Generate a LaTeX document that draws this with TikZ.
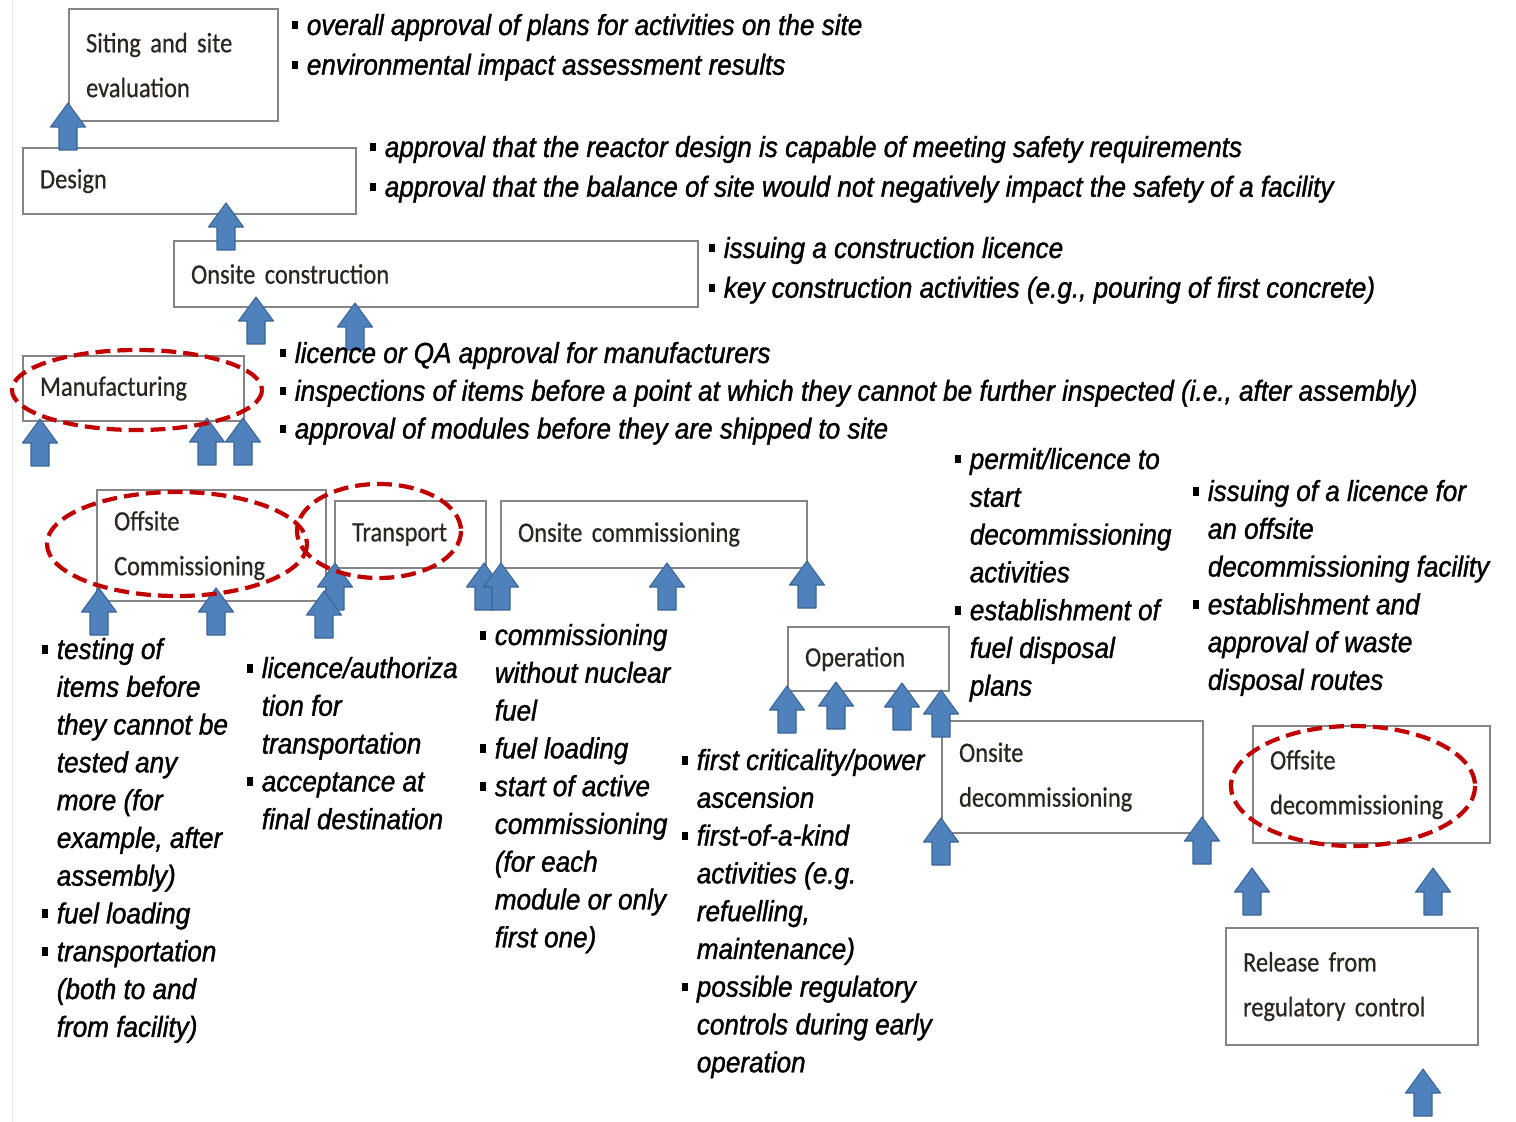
\documentclass[tikz,border=0pt]{standalone}
\usepackage{fontspec}
\setmainfont{Carlito}
\newfontfamily\boxfont[FakeStretch=0.87, FakeBold=0.5]{Carlito}
\newfontfamily\notefont[FakeStretch=0.9, FakeBold=1.2]{Liberation Sans}
\newdimen\px \px=0.2mm
\definecolor{boxgray}{HTML}{858585}
\definecolor{ringred}{HTML}{C00000}
\definecolor{arrfill}{HTML}{4F81BD}
\definecolor{arrline}{HTML}{3A6595}
\definecolor{boxtext}{HTML}{2B2620}
\newcommand{\blt}{\rule[1.1mm]{1.1mm}{1.7mm}}
\newcommand{\boxtype}{\boxfont\fontsize{16}{25.5}\selectfont\spaceskip=0.2em\relax}
\newcommand{\notelist}[1]{\begin{tabular}[t]{@{}l@{\hspace{9\px}}l@{}}#1\end{tabular}}

\begin{document}
\begin{tikzpicture}[x=0.2mm, y=-0.2mm,
    stage/.style={draw=boxgray, line width=1.2pt, anchor=north west, inner xsep=17\px, inner ysep=0pt,
      align=left, text=boxtext, font=\boxtype},
    notes/.style={anchor=base west, inner sep=0pt, font=\notefont\itshape\fontsize{16.5}{21.5}\selectfont},
    topnotes/.style={notes, font=\notefont\itshape\fontsize{16.5}{22.6}\selectfont},
    ring/.style={draw=ringred, line width=2.4pt, dash pattern=on 8.5pt off 4pt},
    uparr/.pic={\draw[arrline, fill=arrfill, line width=0.6pt, line join=round]
      (0,0) -- (17.5,24) -- (9,24) -- (9,47) -- (-9,47) -- (-9,24) -- (-17.5,24) -- cycle;}]

    % Marco
    \fill[white] (0,0) rectangle (1516,1122);
    \useasboundingbox (0,0) rectangle (1516,1122);
    \draw[gray!18] (12,0) -- (12,1122);

    % Etapas
    \node[stage, text width=175\px, minimum height=112\px] (siting) at (68,8) {Siting and site\\evaluation};
    \node[stage, text width=299\px, minimum height=66\px] (design) at (22,147) {Design};
    \node[stage, text width=490\px, minimum height=66\px] (construction) at (173,240) {Onsite construction};
    \node[stage, text width=187\px, minimum height=65\px] (manuf) at (22,355) {Manufacturing};
    \node[stage, text width=195\px, minimum height=111\px] (offcomm) at (96,489) {Offsite\\Commissioning};
    \node[stage, text width=117\px, minimum height=67\px] (transport) at (334,500) {Transport};
    \node[stage, text width=272\px, minimum height=67\px] (oncomm) at (500,500) {Onsite commissioning};
    \node[stage, text width=127\px, minimum height=64\px] (operation) at (787,626) {Operation};
    \node[stage, text width=227\px, minimum height=112\px] (ondecom) at (941,720) {Onsite\\decommissioning};
    \node[stage, text width=203\px, minimum height=117\px] (offdecom) at (1252,725) {Offsite\\decommissioning};
    \node[stage, text width=218\px, minimum height=117\px] (release) at (1225,927) {Release from\\regulatory control};

    % Flechas azules
    \foreach \ax/\ay in {68/103, 226/203, 256/297, 355/303, 40/419, 207/418, 243/418,
        99/588, 216/588, 335/563, 324/591, 484/563, 501/563, 667/563, 807/561,
        787/686, 836/682, 902/683, 941/690, 941/818, 1202/817, 1252/868, 1433/868, 1423/1069}
      \pic at (\ax,\ay) {uparr};

    % Requisitos
    \node[topnotes] (n-siting) at (292,35) {\notelist{
      \blt & overall approval of plans for activities on the site\\
      \blt & environmental impact assessment results}};
    \node[topnotes] (n-design) at (370,157) {\notelist{
      \blt & approval that the reactor design is capable of meeting safety requirements\\
      \blt & approval that the balance of site would not negatively impact the safety of a facility}};
    \node[topnotes] (n-construction) at (709,258) {\notelist{
      \blt & issuing a construction licence\\
      \blt & key construction activities (e.g., pouring of first concrete)}};
    \node[notes] (n-manuf) at (280,363) {\notelist{
      \blt & licence or QA approval for manufacturers\\
      \blt & inspections of items before a point at which they cannot be further inspected (i.e., after assembly)\\
      \blt & approval of modules before they are shipped to site}};
    \node[notes] (n-offcomm) at (42,659) {\notelist{
      \blt & testing of\\ & items before\\ & they cannot be\\ & tested any\\ & more (for\\ & example, after\\ & assembly)\\
      \blt & fuel loading\\
      \blt & transportation\\ & (both to and\\ & from facility)}};
    \node[notes] (n-transport) at (247,678) {\notelist{
      \blt & licence/authoriza\\ & tion for\\ & transportation\\
      \blt & acceptance at\\ & final destination}};
    \node[notes] (n-oncomm) at (480,645) {\notelist{
      \blt & commissioning\\ & without nuclear\\ & fuel\\
      \blt & fuel loading\\
      \blt & start of active\\ & commissioning\\ & (for each\\ & module or only\\ & first one)}};
    \node[notes] (n-operation) at (682,770) {\notelist{
      \blt & first criticality/power\\ & ascension\\
      \blt & first-of-a-kind\\ & activities (e.g.\\ & refuelling,\\ & maintenance)\\
      \blt & possible regulatory\\ & controls during early\\ & operation}};
    \node[notes] (n-ondecom) at (955,469) {\notelist{
      \blt & permit/licence to\\ & start\\ & decommissioning\\ & activities\\
      \blt & establishment of\\ & fuel disposal\\ & plans}};
    \node[notes] (n-offdecom) at (1193,501) {\notelist{
      \blt & issuing of a licence for\\ & an offsite\\ & decommissioning facility\\
      \blt & establishment and\\ & approval of waste\\ & disposal routes}};

    % Elipses rojas
    \draw[ring] (137,390) ellipse [x radius=125, y radius=40];
    \draw[ring] (177,544) ellipse [x radius=130, y radius=52];
    \draw[ring] (379,531) ellipse [x radius=82, y radius=47];
    \draw[ring] (1353,786) ellipse [x radius=122, y radius=60];
\end{tikzpicture}
\end{document}
